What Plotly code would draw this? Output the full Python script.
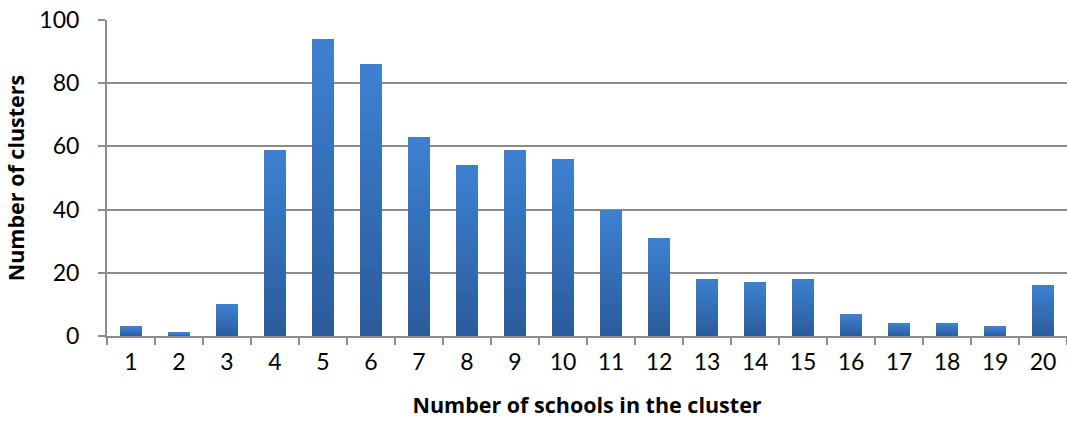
import plotly.graph_objects as go

# Cluster-size distribution
cluster_sizes = [str(i) for i in range(1, 21)]
cluster_counts = [3, 1, 10, 59, 94, 86, 63, 54, 59, 56, 40, 31, 18, 17, 18, 7, 4, 4, 3, 16]
y_ticks = [0, 20, 40, 60, 80, 100]

TICK_FONT = "Lato"
TITLE_FONT = "Open Sans"
GRID = "#8c8c8c"

# Each bar is shaded from a lighter blue at its top to a darker blue at its base,
# built as a stack of equal slices of the bar's own value.
TOP_RGB = (61, 128, 208)
BASE_RGB = (44, 92, 156)
N_SLICES = 16


def shade(k):
    t = k / (N_SLICES - 1)
    r, g, b = (round(BASE_RGB[i] + (TOP_RGB[i] - BASE_RGB[i]) * t) for i in range(3))
    return f"rgb({r},{g},{b})"


fig = go.Figure()
for k in range(N_SLICES):
    fig.add_trace(
        go.Bar(
            x=cluster_sizes,
            y=[v / N_SLICES for v in cluster_counts],
            marker=dict(color=shade(k), line=dict(width=0)),
            width=0.44,
            hoverinfo="skip" if k else None,
        )
    )

fig.update_layout(
    barmode="stack",
    width=1067,
    height=423,
    margin=dict(l=107, r=0, t=20, b=87),
    paper_bgcolor="white",
    plot_bgcolor="white",
    showlegend=False,
    font=dict(family=TICK_FONT, size=23, color="#000000"),
)

fig.update_xaxes(
    type="category",
    showline=True,
    linecolor=GRID,
    linewidth=2,
    ticks="outside",
    tickson="boundaries",
    ticklen=7,
    tickwidth=2,
    tickcolor=GRID,
    showgrid=False,
    tickfont=dict(family=TICK_FONT, size=23),
    ticklabelstandoff=4,
    title=dict(
        text="Number of schools in the cluster",
        font=dict(family=TITLE_FONT, size=21.5, weight="bold"),
        standoff=24,
    ),
)

fig.update_yaxes(
    range=[0, 100],
    tickvals=y_ticks,
    showline=True,
    linecolor=GRID,
    linewidth=2,
    ticks="outside",
    ticklen=7,
    tickwidth=2,
    tickcolor=GRID,
    showgrid=True,
    gridcolor=GRID,
    gridwidth=2,
    zeroline=False,
    tickfont=dict(family=TICK_FONT, size=23),
    ticklabelstandoff=14,
    title=dict(
        text="Number of clusters",
        font=dict(family=TITLE_FONT, size=21.5, weight="bold"),
        standoff=9,
    ),
)

fig.write_html("out.html")
